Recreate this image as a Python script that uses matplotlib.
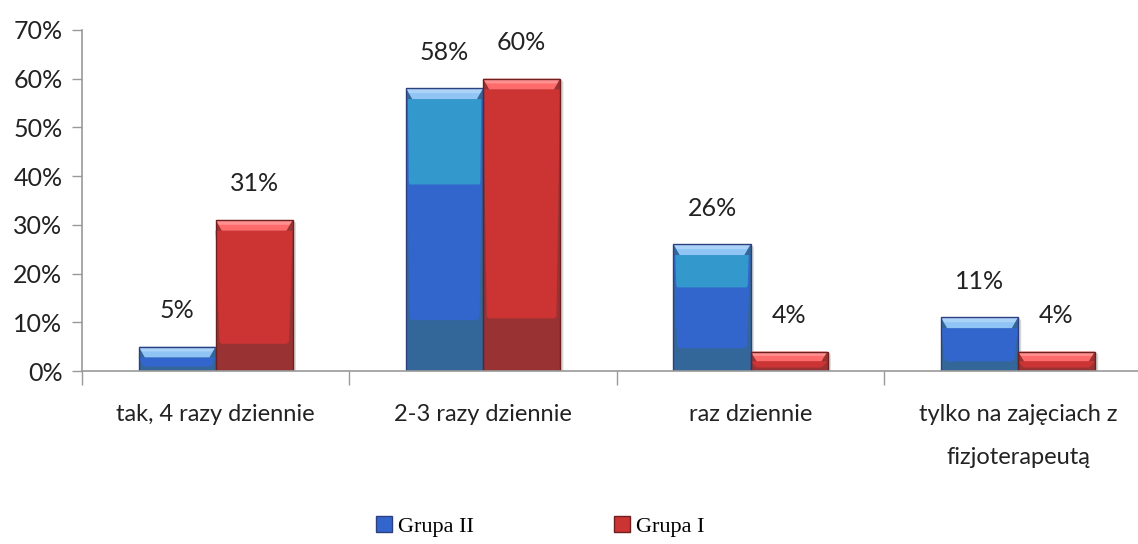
import matplotlib
matplotlib.use("Agg")
import matplotlib.pyplot as plt
from matplotlib.patches import Polygon, Patch
import numpy as np

# dane
categories = ["tak, 4 razy dziennie", "2-3 razy dziennie", "raz dziennie",
              "tylko na zajęciach z\nfizjoterapeutą"]
grupa_2 = [5, 58, 26, 11]
grupa_1 = [31, 60, 4, 4]
series_names = ["Grupa II", "Grupa I"]
yticks = [0, 10, 20, 30, 40, 50, 60, 70]

plt.rcParams['font.family'] = ['Lato', 'DejaVu Sans']

fig = plt.figure(figsize=(11.38, 5.44), dpi=100)
ax = fig.add_axes([0.072, 0.318, 0.940, 0.627])

x = np.arange(len(categories))
w = 0.288

styles = {
    "Grupa II": dict(dark="#336699", body="#3366cc", upper="#3399cc",
                     bevel="#8fc4f5", edge="#2e3f80"),
    "Grupa I": dict(dark="#993333", body="#cc3333", upper=None,
                    bevel="#ff6b6b", edge="#6e2020"),
}


def fancy(bars, st):
    for b in bars:
        x0, wd, h = b.get_x(), b.get_width(), b.get_height()
        x1 = x0 + wd
        bev = min(2.2, h * 0.5)
        ins = wd * 0.08
        # cien z prawej
        ax.add_patch(Polygon([(x1, 0), (x1 + 0.012, -0.4), (x1 + 0.012, h - 0.6), (x1, h)],
                             closed=True, fc="#bbbbbb", ec="none", zorder=1.5, alpha=0.6))
        # korpus (zwezajacy sie ku dolowi)
        low = max(h * 0.18, 0.7)
        top = h - bev
        if top > low:
            ax.add_patch(Polygon([(x0, top), (x1, top), (x1 - ins * 0.6, low + 0.4),
                                  (x1 - ins, low), (x0 + ins, low), (x0 + ins * 0.6, low + 0.4)],
                                 closed=True, fc=st["body"], ec="none", zorder=2.1))
            if st["upper"] is not None and h > 15:
                up = h * 0.66
                ax.add_patch(Polygon([(x0 + ins * 0.3, top), (x1 - ins * 0.3, top),
                                      (x1 - ins * 0.45, up + 0.5), (x1 - ins * 0.6, up),
                                      (x0 + ins * 0.6, up), (x0 + ins * 0.45, up + 0.5)],
                                     closed=True, fc=st["upper"], ec="none", zorder=2.2))
        # skos na gorze
        ax.add_patch(Polygon([(x0, h), (x1, h), (x1 - ins, h - bev), (x0 + ins, h - bev)],
                             closed=True, fc=st["bevel"], ec="none", zorder=2.3))
        ax.add_patch(Polygon([(x0, h), (x1, h), (x1 - ins * 0.5, h - bev * 0.45),
                              (x0 + ins * 0.5, h - bev * 0.45)],
                             closed=True, fc="white", ec="none", alpha=0.25, zorder=2.4))
        ax.add_patch(plt.Rectangle((x0, 0), wd, h, fc="none", ec=st["edge"],
                                   lw=1.0, zorder=2.5))


for vals, name, off in [(grupa_2, series_names[0], -w / 2), (grupa_1, series_names[1], w / 2)]:
    st = styles[name]
    bars = ax.bar(x + off, vals, w, color=st["dark"], edgecolor="none", zorder=2)
    fancy(bars, st)
    for b, v in zip(bars, vals):
        ax.annotate(f"{v}%", (b.get_x() + b.get_width() / 2, b.get_height()),
                    xytext=(0, 26), textcoords="offset points", ha="center", va="center",
                    fontsize=18, color="#222222", zorder=4)

ax.set_xlim(-0.5, 3.5)
ax.set_ylim(0, 70)
ax.set_yticks(yticks)
ax.set_yticklabels([f"{t}%" for t in yticks], fontsize=18, color="#222222")
ax.tick_params(axis="y", length=7, width=1, color="#999999", pad=7)

ax.set_xticks(np.arange(-0.5, len(categories) - 0.5, 1.0))
ax.set_xticklabels([])
ax.tick_params(axis="x", which="major", length=10, width=1, color="#999999")
ax.set_xticks(x, minor=True)
ax.set_xticklabels(categories, minor=True, fontsize=17, color="#222222", linespacing=2.3)
ax.tick_params(axis="x", which="minor", length=0, pad=24)

for s in ["top", "right"]:
    ax.spines[s].set_visible(False)
for s in ["left", "bottom"]:
    ax.spines[s].set_color("#999999")
    ax.spines[s].set_linewidth(1.2)

handles = [Patch(facecolor=styles[n]["body"], edgecolor=styles[n]["edge"]) for n in series_names]
fig.legend(handles, series_names, loc="center", bbox_to_anchor=(0.475, 0.032), ncol=2,
           frameon=False, columnspacing=6.3, handlelength=0.7, handleheight=0.7,
           handletextpad=0.3, prop={"family": "Liberation Serif", "size": 16})

fig.savefig("out.png", dpi=100)
